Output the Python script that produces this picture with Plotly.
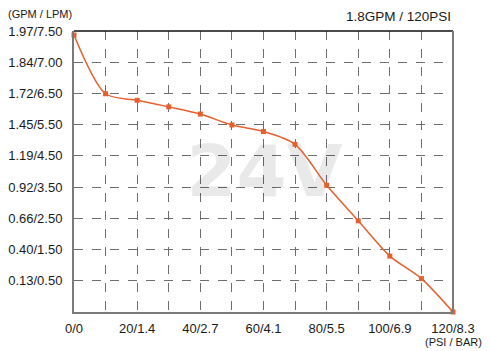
import plotly.graph_objects as go

# ---- data ----
pressure_psi = [0, 10, 20, 30, 40, 50, 60, 70, 80, 90, 100, 110, 120]
# flow, expressed in grid-row units of the (non-linear) GPM/LPM axis
flow_grid_pos = [8.87, 6.99, 6.78, 6.57, 6.34, 5.99, 5.78, 5.37, 4.06, 2.92, 1.79, 1.07, 0.0]

x_tick_vals = [0, 10, 20, 30, 40, 50, 60, 70, 80, 90, 100, 110, 120]
x_tick_text = ["0/0", "", "20/1.4", "", "40/2.7", "", "60/4.1", "", "80/5.5", "", "100/6.9", "", "120/8.3"]
y_tick_vals = [1, 2, 3, 4, 5, 6, 7, 8, 9]
y_tick_text = ["0.13/0.50", "0.40/1.50", "0.66/2.50", "0.92/3.50", "1.19/4.50",
               "1.45/5.50", "1.72/6.50", "1.84/7.00", "1.97/7.50"]

title_text = "1.8GPM / 120PSI"
y_unit = "(GPM / LPM)"
x_unit = "(PSI / BAR)"
watermark = "24V"

FONT = "Liberation Sans, Arial, sans-serif"
LINE_COLOR = "#E5602E"
AXIS_GRAY = "#7a7a7a"
GRID = "#6e6e6e"

fig = go.Figure()
# watermark (semi-transparent so the grid shows through)
fig.add_trace(go.Scatter(
    x=[60.3], y=[4.3], mode="text", text=["<b>" + watermark + "</b>"],
    textfont=dict(family="DejaVu Sans, Liberation Sans, sans-serif", size=72,
                  color="rgba(0,0,0,0.085)"),
    textposition="middle center", hoverinfo="skip", showlegend=False,
))
fig.add_trace(go.Scatter(
    x=pressure_psi, y=flow_grid_pos, mode="lines+markers",
    line=dict(color=LINE_COLOR, width=1.5, shape="spline", smoothing=0.8),
    marker=dict(symbol="square", size=5, color=LINE_COLOR),
    showlegend=False, cliponaxis=False,
))

fig.update_layout(
    width=490, height=351,
    margin=dict(l=74, r=37, t=31, b=39, autoexpand=False),
    paper_bgcolor="white", plot_bgcolor="white",
    font=dict(family=FONT, size=13, color="#1a1a1a"),
    xaxis=dict(range=[0, 120], tickvals=x_tick_vals, ticktext=x_tick_text,
               showgrid=True, gridcolor=GRID, gridwidth=1, griddash="dash",
               showline=True, linecolor=AXIS_GRAY, linewidth=2, automargin=False,
               ticks="", ticklabelstandoff=3, zeroline=False, fixedrange=True),
    yaxis=dict(range=[0, 9], tickvals=y_tick_vals, ticktext=y_tick_text,
               showgrid=True, gridcolor=GRID, gridwidth=1, griddash="dash",
               showline=True, linecolor=AXIS_GRAY, linewidth=2, automargin=False,
               ticks="", ticklabelstandoff=7, zeroline=False, fixedrange=True),
)

# top and right border lines
fig.add_shape(type="line", xref="x domain", yref="y domain", x0=0, x1=1, y0=1, y1=1,
              line=dict(color="#111111", width=1.5), layer="above")
fig.add_shape(type="line", xref="x domain", yref="y domain", x0=1, x1=1, y0=0, y1=1,
              line=dict(color=AXIS_GRAY, width=2), layer="above")

fig.add_annotation(text=title_text, xref="paper", yref="paper", x=1.0, y=1.0,
                   xanchor="right", yanchor="bottom", yshift=5, showarrow=False,
                   font=dict(family=FONT, size=13.5, color="#1a1a1a"))
fig.add_annotation(text=y_unit, xref="paper", yref="paper", x=0, y=1.0,
                   xanchor="center", yanchor="bottom", xshift=-34, yshift=9, showarrow=False,
                   font=dict(family=FONT, size=11, color="#1a1a1a"))
fig.add_annotation(text=x_unit, xref="paper", yref="paper", x=1.0, y=0,
                   xanchor="center", yanchor="top", yshift=-22, showarrow=False,
                   font=dict(family=FONT, size=11, color="#1a1a1a"))

fig.write_html("out.html", config={"displayModeBar": False, "staticPlot": True},
               post_script="document.body.style.margin='0';")
